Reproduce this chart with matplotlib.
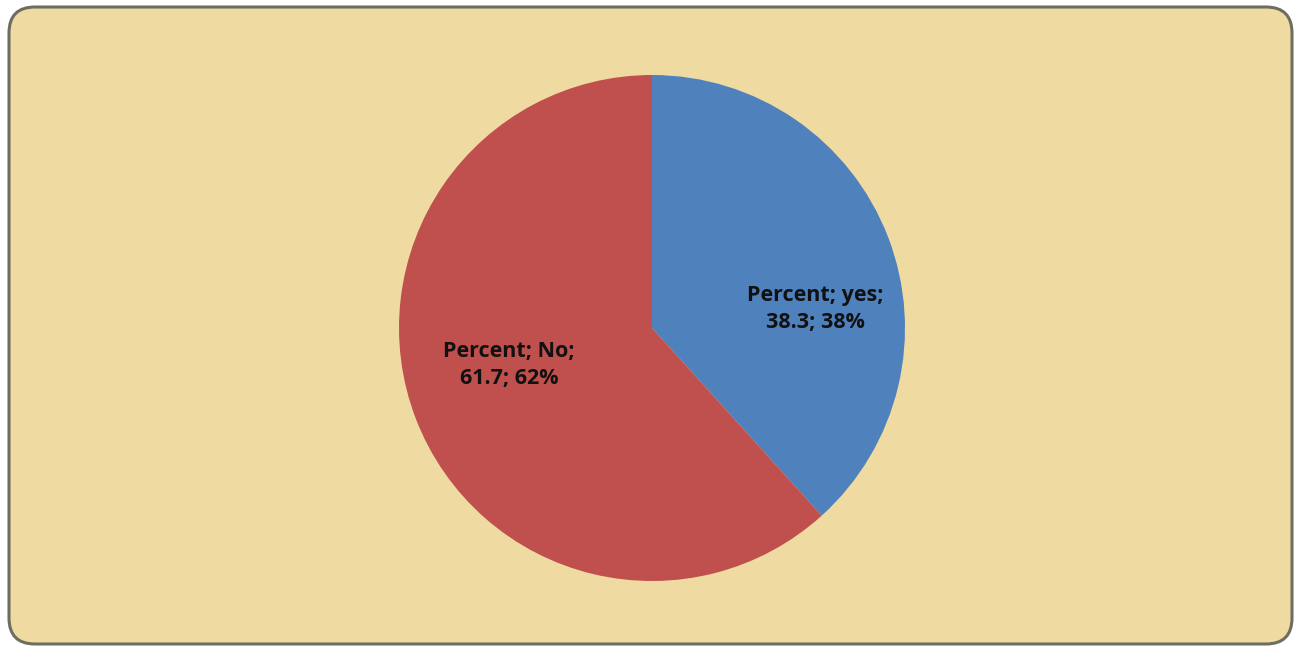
import matplotlib.pyplot as plt
from matplotlib.patches import FancyBboxPatch

# survey answer shares
labels = ['yes', 'No']
values = [38.3, 61.7]
colors = ['#4F81BD', '#C0504D']

W, H = 1301, 650
fig = plt.figure(figsize=(W / 100, H / 100), dpi=100)
fig.patch.set_facecolor('white')

# background panel with rounded border
bg = fig.add_axes([0, 0, 1, 1])
bg.set_xlim(0, W)
bg.set_ylim(H, 0)
bg.axis('off')
panel = FancyBboxPatch((9, 7), W - 18, H - 13,
                       boxstyle='round,pad=0,rounding_size=26',
                       facecolor='#EFDAA2', edgecolor='#6E6E60', linewidth=2.2)
bg.add_patch(panel)

# pie centred at (652, 328) px, radius 253 px
cx, cy, r = 652, 328, 253
ax = fig.add_axes([(cx - r) / W, (H - cy - r) / H, 2 * r / W, 2 * r / H])
wedges, _ = ax.pie(values, colors=colors, startangle=90, counterclock=False,
                   radius=1, wedgeprops=dict(linewidth=0))
ax.set_xlim(-1, 1)
ax.set_ylim(-1, 1)
ax.set_aspect('auto')

# data labels: series name; category; value; percent
label_pos = [(0.645, 0.075), (-0.565, -0.146)]
total = sum(values)
for (x, y), lab, v in zip(label_pos, labels, values):
    ax.text(x, y, 'Percent; %s;\n%.1f; %d%%' % (lab, v, round(v / total * 100)),
            ha='center', va='center', fontsize=15.5, fontweight='bold',
            family='Open Sans', color='#111111', linespacing=1.4)

fig.savefig('out.png', dpi=100)
